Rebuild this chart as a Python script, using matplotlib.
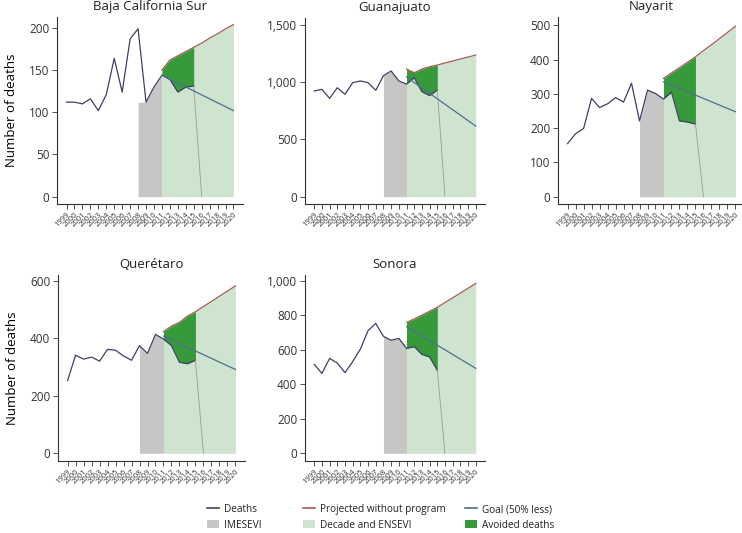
#!/usr/bin/env python3
"""Road traffic deaths by state: observed, projected and goal, 1999-2020."""

import matplotlib
matplotlib.use('Agg')
import matplotlib.pyplot as plt
from matplotlib.lines import Line2D
from matplotlib.patches import Patch
from matplotlib.ticker import FuncFormatter

YEARS = list(range(1999, 2021))
OBS_YEARS = list(range(1999, 2016))
IMESEVI_YEARS = [2008, 2009, 2010, 2011]
PROJ_YEARS = list(range(2011, 2021))
AVOIDED_YEARS = list(range(2011, 2016))

# observed deaths 1999-2015
bcs_deaths = [112, 112, 110, 116, 102, 121, 164, 124, 187, 199, 112, 130, 144, 139, 124, 130, 131]
gto_deaths = [923, 938, 859, 952, 894, 996, 1011, 996, 929, 1057, 1098, 1011, 984, 1040, 917, 883, 932]
nay_deaths = [155, 184, 199, 287, 260, 271, 289, 276, 331, 221, 311, 301, 285, 305, 221, 218, 212]
qro_deaths = [253, 342, 328, 335, 321, 362, 359, 339, 324, 375, 348, 414, 398, 375, 317, 312, 324]
son_deaths = [516, 464, 551, 524, 468, 532, 605, 712, 754, 679, 656, 667, 609, 619, 574, 559, 482]

# top of the IMESEVI band, 2008-2011
bcs_imesevi = [112, 112, 130, 144]
gto_imesevi = [1057, 1098, 1011, 984]
nay_imesevi = [221, 311, 301, 285]
qro_imesevi = [375, 348, 414, 398]
son_imesevi = [679, 656, 667, 609]

# projected without program, 2011-2020
bcs_proj = [150, 162, 167, 172, 177, 182, 188, 193, 199, 204]
gto_proj = [1115, 1083, 1115, 1136, 1150, 1168, 1185, 1203, 1220, 1238]
nay_proj = [345, 361, 376, 392, 408, 426, 443, 461, 479, 497]
qro_proj = [424, 443, 456, 478, 493, 511, 529, 547, 565, 583]
son_proj = [760, 780, 802, 825, 847, 875, 903, 930, 958, 986]

# goal (50% less), 2011 and 2020
bcs_goal = [144, 102]
gto_goal = [1045, 617]
nay_goal = [335, 248]
qro_goal = [408, 292]
son_goal = [735, 493]

STATES = [
    ("Baja California Sur", bcs_deaths, bcs_imesevi, bcs_proj, bcs_goal, [0, 50, 100, 150, 200], (-8.7, 213)),
    ("Guanajuato", gto_deaths, gto_imesevi, gto_proj, gto_goal, [0, 500, 1000, 1500], (-64, 1561)),
    ("Nayarit", nay_deaths, nay_imesevi, nay_proj, nay_goal, [0, 100, 200, 300, 400, 500], (-21, 524)),
    ("Querétaro", qro_deaths, qro_imesevi, qro_proj, qro_goal, [0, 200, 400, 600], (-26.8, 621)),
    ("Sonora", son_deaths, son_imesevi, son_proj, son_goal, [0, 200, 400, 600, 800, 1000], (-44.7, 1035)),
]

# axes boxes in pixels: left, top, right, bottom
BOXES = [
    (57, 17, 243, 204),
    (305, 18, 485, 204),
    (558, 17, 745, 204),
    (58, 275, 245, 461),
    (305, 275, 485, 461),
]

C_DEATHS = "#3d4163"
C_PROJ = "#a85a55"
C_GOAL = "#4f6f8f"
C_GRAY = "#c6c6c6"
C_LIGHT = "#cfe4cf"
C_DARK = "#369a3b"
C_DROP = "#9a9a9a"

W, H = 742, 533

plt.rcParams.update({
    "font.family": ["Open Sans", "DejaVu Sans"],
    "axes.linewidth": 0.8,
    "axes.edgecolor": "#333333",
    "xtick.color": "#333333",
    "ytick.color": "#333333",
    "text.color": "#222222",
})

fig = plt.figure(figsize=(W / 100, H / 100), dpi=100)

for (name, deaths, imesevi, proj, goal, yticks, ylim), (l, t, r, b) in zip(STATES, BOXES):
    ax = fig.add_axes([l / W, 1 - b / H, (r - l) / W, (b - t) / H])

    ax.fill_between(IMESEVI_YEARS, 0, imesevi, color=C_GRAY, lw=0)
    ax.fill_between(PROJ_YEARS, 0, proj, color=C_LIGHT, lw=0)
    ax.fill_between(AVOIDED_YEARS, deaths[-5:], proj[:5], color=C_DARK, lw=0)

    ax.plot(OBS_YEARS, deaths, color=C_DEATHS, lw=0.9)
    ax.plot([OBS_YEARS[-1], OBS_YEARS[-1] + 1], [deaths[-1], 0], color=C_DROP, lw=0.6)
    ax.plot(PROJ_YEARS, proj, color=C_PROJ, lw=0.9)
    ax.plot([PROJ_YEARS[0], PROJ_YEARS[-1]], goal, color=C_GOAL, lw=0.9)

    ax.set_xlim(1997.8, 2021.2)
    ax.set_ylim(*ylim)
    ax.set_yticks(yticks)
    ax.yaxis.set_major_formatter(FuncFormatter(lambda v, p: f"{int(v):,}"))
    ax.set_xticks(YEARS)
    ax.set_xticklabels([str(y) for y in YEARS], rotation=45, ha="right",
                       va="top", rotation_mode="anchor", fontsize=5.5)
    ax.tick_params(axis="x", length=3.5, width=0.6, pad=1.5)
    ax.tick_params(axis="y", length=3.5, width=0.6, labelsize=8.5, pad=2)
    for side in ("top", "right"):
        ax.spines[side].set_visible(False)
    ax.set_title(name, fontsize=9.5, fontweight="normal", pad=5)
    if l < 100:
        ax.set_ylabel("Number of deaths", fontsize=9.5, labelpad=8)

legend_cols = [
    (207, [Line2D([], [], color=C_DEATHS, lw=1.2, label="Deaths"),
           Patch(facecolor=C_GRAY, label="IMESEVI")]),
    (303, [Line2D([], [], color=C_PROJ, lw=1.2, label="Projected without program"),
           Patch(facecolor=C_LIGHT, label="Decade and ENSEVI")]),
    (465, [Line2D([], [], color=C_GOAL, lw=1.2, label="Goal (50% less)"),
           Patch(facecolor=C_DARK, label="Avoided deaths")]),
]
for x, handles in legend_cols:
    fig.legend(handles=handles, loc="upper left", bbox_to_anchor=(x / W, 1 - 504 / H),
               frameon=False, fontsize=7.2, handlelength=1.2, handleheight=0.75,
               handletextpad=0.5, labelspacing=0.45, borderpad=0, borderaxespad=0)

fig.savefig("out.png", dpi=100)
